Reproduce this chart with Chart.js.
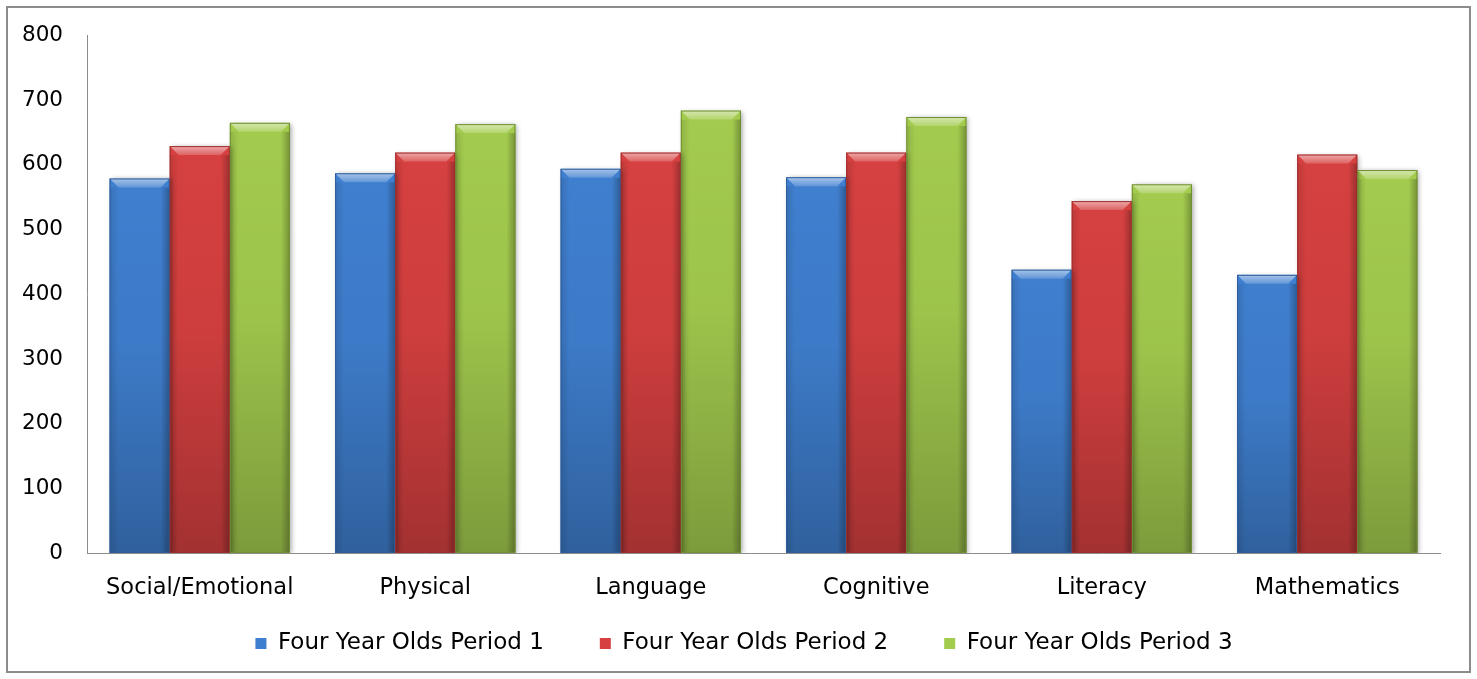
<!DOCTYPE html>
<html>
<head>
<meta charset="utf-8">
<script src="https://cdn.jsdelivr.net/npm/chart.js@4/dist/chart.umd.min.js"></script>
<style>
  html, body { margin: 0; padding: 0; background: #fff; }
  #frame { position: absolute; left: 6px; top: 6px; width: 1461px; height: 663px; border: 2px solid #8c8c8c; }
</style>
</head>
<body>
<div id="frame"><canvas id="scoreChart" width="1461" height="663"></canvas></div>
<script>
const categories = ['Social/Emotional', 'Physical', 'Language', 'Cognitive', 'Literacy', 'Mathematics'];
const seriesNames = ['Four Year Olds Period 1', 'Four Year Olds Period 2', 'Four Year Olds Period 3'];
const period1 = [579, 587, 594, 581, 438, 430];
const period2 = [629, 619, 619, 619, 544, 616];
const period3 = [665, 663, 684, 674, 570, 592];
const yMax = 800;
const yStep = 100;

const fillColors = ['#3f7fcf', '#d64040', '#a3cb4e'];
const edgeColors = ['#2e5d9c', '#9e2e2e', '#718f33'];

// soft drop shadow under the bars, then bevel shading on top of each one
const bevel = {
  id: 'bevel',
  beforeDatasetsDraw(chart) {
    const c = chart.ctx;
    c.save();
    c.shadowColor = 'rgba(0,0,0,0.35)';
    c.shadowBlur = 5;
    c.shadowOffsetX = 2;
    c.shadowOffsetY = 1;
  },
  afterDatasetsDraw(chart) {
    const c = chart.ctx;
    c.restore();
    c.save();
    chart.data.datasets.forEach((ds, i) => {
      chart.getDatasetMeta(i).data.forEach(bar => {
        const l = bar.x - bar.width / 2, r = bar.x + bar.width / 2;
        const t = bar.y, b = bar.base, h = b - t, e = 9;

        let g = c.createLinearGradient(0, t, 0, b);
        g.addColorStop(0, 'rgba(0,0,0,0)');
        g.addColorStop(0.45, 'rgba(0,0,0,0.04)');
        g.addColorStop(1, 'rgba(0,0,0,0.24)');
        c.fillStyle = g;
        c.fillRect(l, t, r - l, h);

        // side facets
        g = c.createLinearGradient(l, 0, l + e, 0);
        g.addColorStop(0, 'rgba(0,0,0,0.12)');
        g.addColorStop(1, 'rgba(0,0,0,0)');
        c.fillStyle = g;
        c.fillRect(l, t + e, e, h - e);
        g = c.createLinearGradient(r - e, 0, r, 0);
        g.addColorStop(0, 'rgba(0,0,0,0)');
        g.addColorStop(1, 'rgba(0,0,0,0.28)');
        c.fillStyle = g;
        c.fillRect(r - e, t + e, e, h - e);

        // top facet
        g = c.createLinearGradient(0, t, 0, t + e);
        g.addColorStop(0, 'rgba(255,255,255,0.55)');
        g.addColorStop(1, 'rgba(255,255,255,0.18)');
        c.fillStyle = g;
        c.beginPath();
        c.moveTo(l, t);
        c.lineTo(r, t);
        c.lineTo(r - e, t + e);
        c.lineTo(l + e, t + e);
        c.closePath();
        c.fill();

        c.strokeStyle = edgeColors[i];
        c.lineWidth = 1;
        c.strokeRect(l + 0.5, t + 0.5, r - l - 1, h - 1);
      });
    });
    c.restore();
  }
};

// keep the wide legend item spacing from eating vertical room,
// and sit the legend just under the category labels
const legendPlace = {
  id: 'legendPlace',
  beforeInit(chart) {
    const fit = chart.legend.fit;
    chart.legend.fit = function () {
      fit.call(this);
      this.height = 50;
    };
  },
  afterLayout(chart) {
    const lg = chart.legend;
    lg.top = chart.chartArea.bottom + 23;
    lg.bottom = chart.height;
    lg.height = lg.bottom - lg.top;
    lg.left += 20;
    lg.right += 20;
  }
};

new Chart(document.getElementById('scoreChart'), {
  type: 'bar',
  data: {
    labels: categories,
    datasets: [period1, period2, period3].map((vals, i) => ({
      label: seriesNames[i],
      data: vals,
      backgroundColor: fillColors[i],
      borderWidth: 0,
      categoryPercentage: 0.8,
      barPercentage: 1.0
    }))
  },
  options: {
    responsive: false,
    devicePixelRatio: 1,
    animation: false,
    layout: { padding: { top: 27.5, right: 29, bottom: 0, left: 0 } },
    plugins: {
      tooltip: { enabled: false },
      legend: {
        position: 'bottom',
        labels: {
          boxWidth: 11,
          boxHeight: 11,
          padding: 56,
          color: '#000',
          font: { family: 'DejaVu Sans', size: 23 }
        }
      }
    },
    scales: {
      x: {
        grid: { display: false, drawTicks: false },
        border: { display: true, color: '#8c8c8c', width: 1 },
        ticks: { color: '#000', padding: 22, font: { family: 'DejaVu Sans', size: 22.5 } },
        afterFit(scale) { scale.height = 68; }
      },
      y: {
        min: 0,
        max: yMax,
        grid: { display: false, drawTicks: false },
        border: { display: true, color: '#8c8c8c', width: 1 },
        ticks: { stepSize: yStep, color: '#000', padding: 24, font: { family: 'DejaVu Sans', size: 21.5 } },
        afterFit(scale) {
          scale.width = 79;
          scale.paddingTop = 0;
          scale.paddingBottom = 0;
        }
      }
    }
  },
  plugins: [bevel, legendPlace]
});
</script>
</body>
</html>
